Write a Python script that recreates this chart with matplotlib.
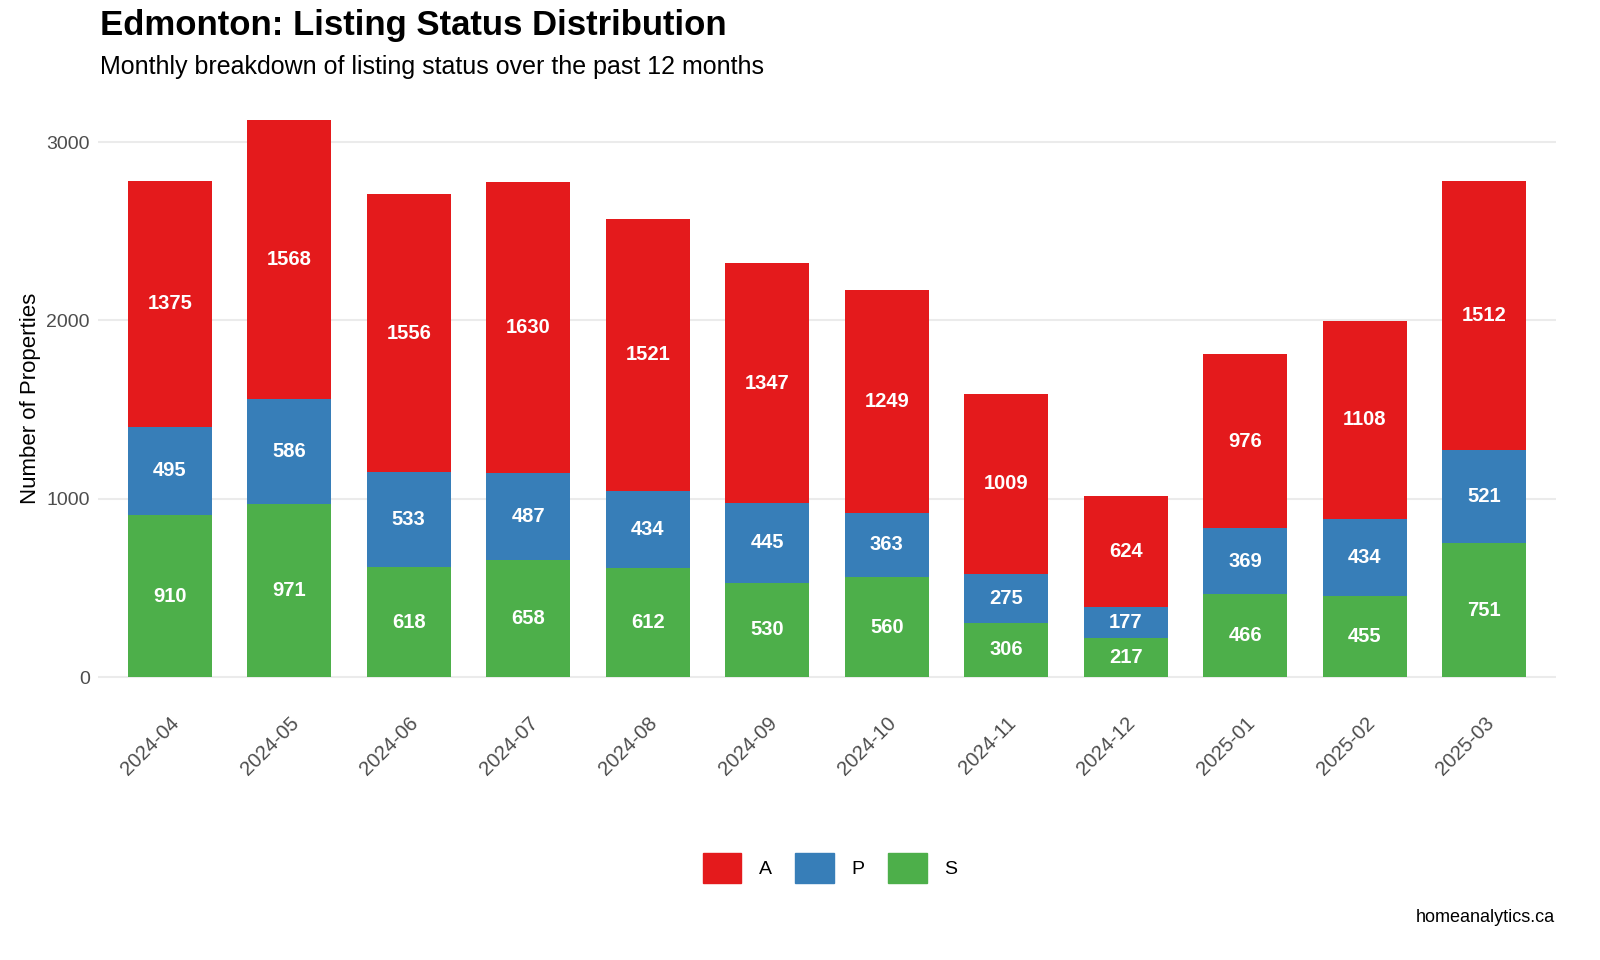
import matplotlib
matplotlib.use("Agg")
import matplotlib.pyplot as plt
import numpy as np

months = ["2024-04","2024-05","2024-06","2024-07","2024-08","2024-09","2024-10","2024-11","2024-12","2025-01","2025-02","2025-03"]
S = [910,971,618,658,612,530,560,306,217,466,455,751]
P = [495,586,533,487,434,445,363,275,177,369,434,521]
A = [1375,1568,1556,1630,1521,1347,1249,1009,624,976,1108,1512]
colors = {"A":"#E41A1C","P":"#377EB8","S":"#4DAF4A"}

plt.rcParams['font.family'] = ['Liberation Sans', 'DejaVu Sans']
fig = plt.figure(figsize=(16,9.6), dpi=100)
ax = fig.add_axes([98/1600, (960-705)/960, (1556-98)/1600, 613/960])
x = np.arange(len(months))
w = 0.7
S_ = np.array(S); P_ = np.array(P); A_ = np.array(A)
for vals, bottom, key in [(S_, 0, "S"), (P_, S_, "P"), (A_, S_+P_, "A")]:
    ax.bar(x, vals, w, bottom=bottom, color=colors[key], zorder=3)
    for xi, v, b in zip(x, vals, np.zeros_like(vals)+bottom):
        ax.text(xi, b+v/2, str(v), ha='center', va='center', color='white',
                fontsize=14.5, fontweight='bold', zorder=4)
ax.set_xlim(-0.6, 11.6)
ax.set_ylim(-156, 3281)
ax.set_yticks([0,1000,2000,3000])
ax.set_yticklabels(["0","1000","2000","3000"], fontsize=14, color="#4d4d4d")
ax.set_xticks(x)
ax.set_xticklabels(months, rotation=45, ha='right', rotation_mode='anchor', fontsize=14.5, color="#4d4d4d")
ax.tick_params(length=0, pad=6)
ax.grid(axis='y', color='#ebebeb', linewidth=1.5, zorder=0)
for s in ax.spines.values():
    s.set_visible(False)
ax.set_ylabel("Number of Properties", fontsize=16)

fig.text(100/1600, 1-26/960, "Edmonton: Listing Status Distribution", fontsize=25, fontweight='bold', va='center')
fig.text(100/1600, 1-67/960, "Monthly breakdown of listing status over the past 12 months", fontsize=18, va='center')
fig.text(1555/1600, 1-918/960, "homeanalytics.ca", fontsize=13, ha='right', va='center')

from matplotlib.patches import Patch
handles = [Patch(color=colors[k], label=k) for k in ["A","P","S"]]
fig.legend(handles=handles, loc='center', bbox_to_anchor=(830/1600, 1-868/960), ncol=3,
           frameon=False, fontsize=14, handlelength=2.0, handleheight=2.0, columnspacing=1.2, handletextpad=0.9)
fig.savefig("out.png", dpi=100)
